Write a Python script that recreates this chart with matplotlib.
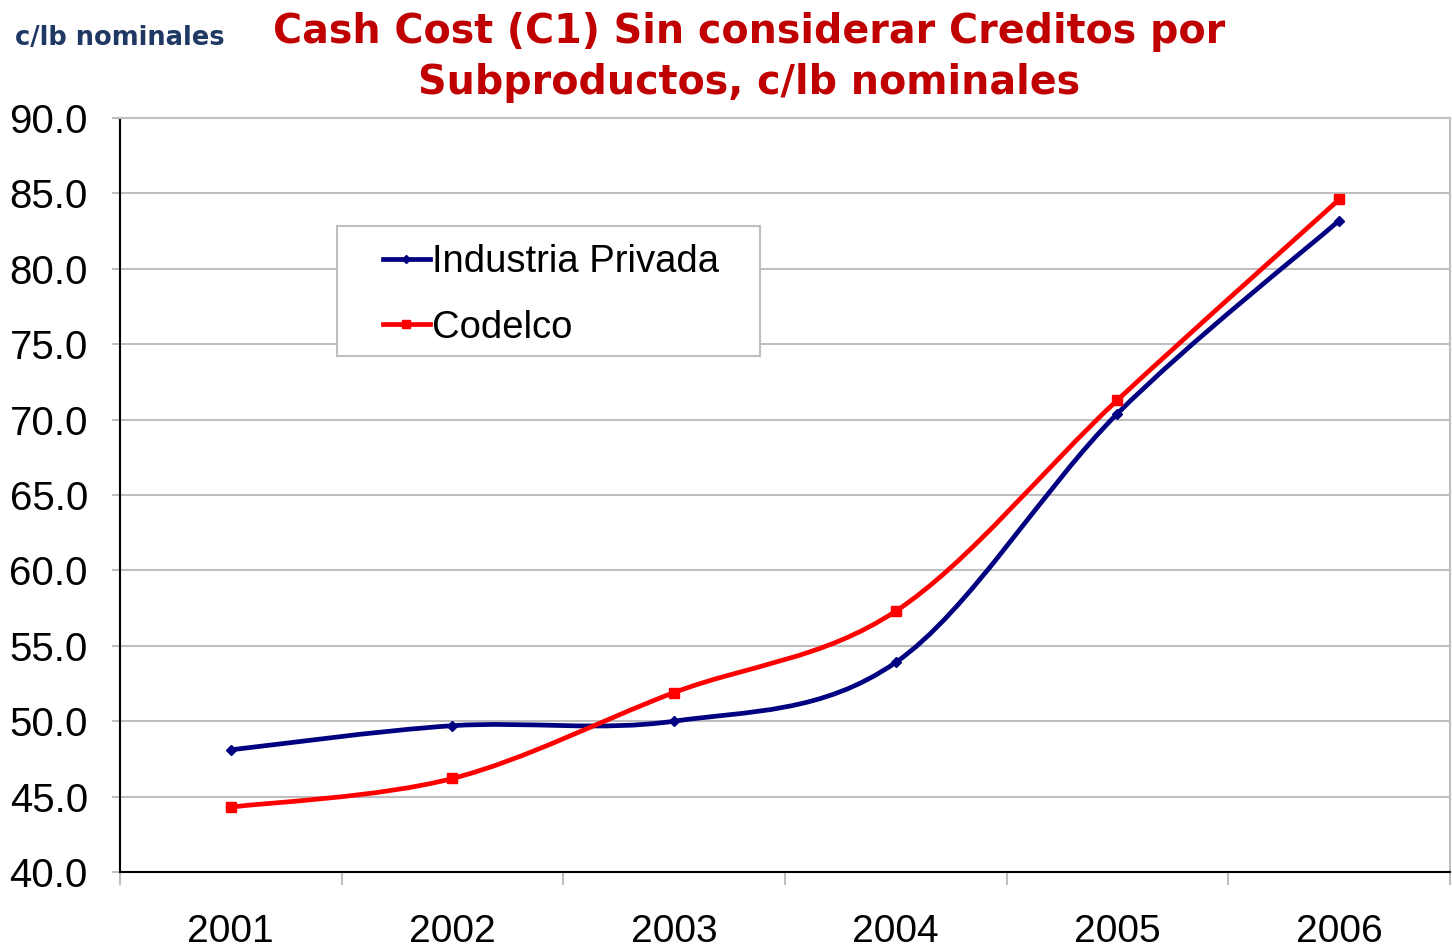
import numpy as np
import matplotlib.pyplot as plt
from matplotlib.path import Path
from matplotlib.patches import PathPatch, Rectangle

years = ['2001', '2002', '2003', '2004', '2005', '2006']
privada = [48.1, 49.7, 50.0, 53.9, 70.4, 83.2]
codelco = [44.3, 46.2, 51.9, 57.3, 71.3, 84.6]


def smooth_path(xs, ys):
    # Excel-like smoothed line: cubic bezier through the points
    pts = np.column_stack([xs, ys]).astype(float)
    n = len(pts)
    verts = [pts[0]]
    codes = [Path.MOVETO]
    for i in range(n - 1):
        p0 = pts[i - 1] if i > 0 else pts[i]
        p1 = pts[i]
        p2 = pts[i + 1]
        p3 = pts[i + 2] if i + 2 < n else pts[i + 1]
        c1 = p1 + (p2 - p0) / 6.0
        c2 = p2 - (p3 - p1) / 6.0
        verts += [c1, c2, p2]
        codes += [Path.CURVE4] * 3
    return Path(verts, codes)


fig = plt.figure(figsize=(14.52, 9.48), dpi=100)
ax = fig.add_axes([0.0826, 0.0802, 0.9160, 0.7953])

x = np.arange(len(years))
series = [
    ('Industria Privada', privada, '#000080', 'D', 5),
    ('Codelco', codelco, '#FF0000', 's', 7),
]
for name, vals, col, mk, ms in series:
    ax.add_patch(PathPatch(smooth_path(x, vals), facecolor='none',
                           edgecolor=col, lw=3.4, zorder=3))
    ax.plot(x, vals, ls='none', marker=mk, ms=ms, color=col, zorder=4)
    # legend proxy
    ax.plot([], [], color=col, lw=3.4, marker=mk, ms=ms - 1, label=name)

ax.set_xlim(-0.5, 5.5)
ax.set_ylim(40, 90)
ax.set_yticks(np.arange(40, 90.1, 5))
ax.set_yticklabels([f'{v:.1f}' for v in np.arange(40, 90.1, 5)])
ax.set_xticks(x)
ax.set_xticklabels(years)
ax.set_xticks(np.arange(-0.5, 5.6, 1), minor=True)

ax.grid(axis='y', color='#BFBFBF', lw=1.5, zorder=0)
ax.tick_params(axis='y', which='major', length=6, color='#BFBFBF', width=1.5,
               labelsize=29, pad=17)
ax.tick_params(axis='x', which='major', length=0, labelsize=28, pad=30)
ax.tick_params(axis='x', which='minor', length=9, color='#BFBFBF', width=1.5)
for lbl in ax.get_xticklabels() + ax.get_yticklabels():
    lbl.set_fontfamily('Liberation Sans')

ax.spines['left'].set_color('black')
ax.spines['left'].set_linewidth(1.5)
ax.spines['bottom'].set_color('black')
ax.spines['bottom'].set_linewidth(1.5)
ax.spines['top'].set_color('#BFBFBF')
ax.spines['top'].set_linewidth(1.5)
ax.spines['right'].set_color('#BFBFBF')
ax.spines['right'].set_linewidth(1.5)

# legend box drawn separately (wider side padding than matplotlib gives)
ax.add_patch(Rectangle((0.1632, 0.6844), 0.318, 0.1724, transform=ax.transAxes,
                       facecolor='white', edgecolor='#BFBFBF', lw=1.5, zorder=5))
leg = ax.legend(loc='upper left', bbox_to_anchor=(0.1977, 0.833),
                prop={'family': 'Liberation Sans', 'size': 27.5},
                frameon=False, handlelength=1.23,
                handletextpad=0.05, labelspacing=0.78, borderpad=0,
                borderaxespad=0)
leg.set_zorder(6)

fig.text(0.0103, 0.96, 'c/lb nominales', color='#1F3864', fontsize=18.5,
         fontweight='bold', ha='left', va='center')
fig.text(0.516, 0.987, 'Cash Cost (C1) Sin considerar Creditos por\nSubproductos, c/lb nominales',
         color='#C00000', fontsize=28.5, fontweight='bold', ha='center', va='top',
         linespacing=1.35)

fig.savefig('out.png', dpi=100)
